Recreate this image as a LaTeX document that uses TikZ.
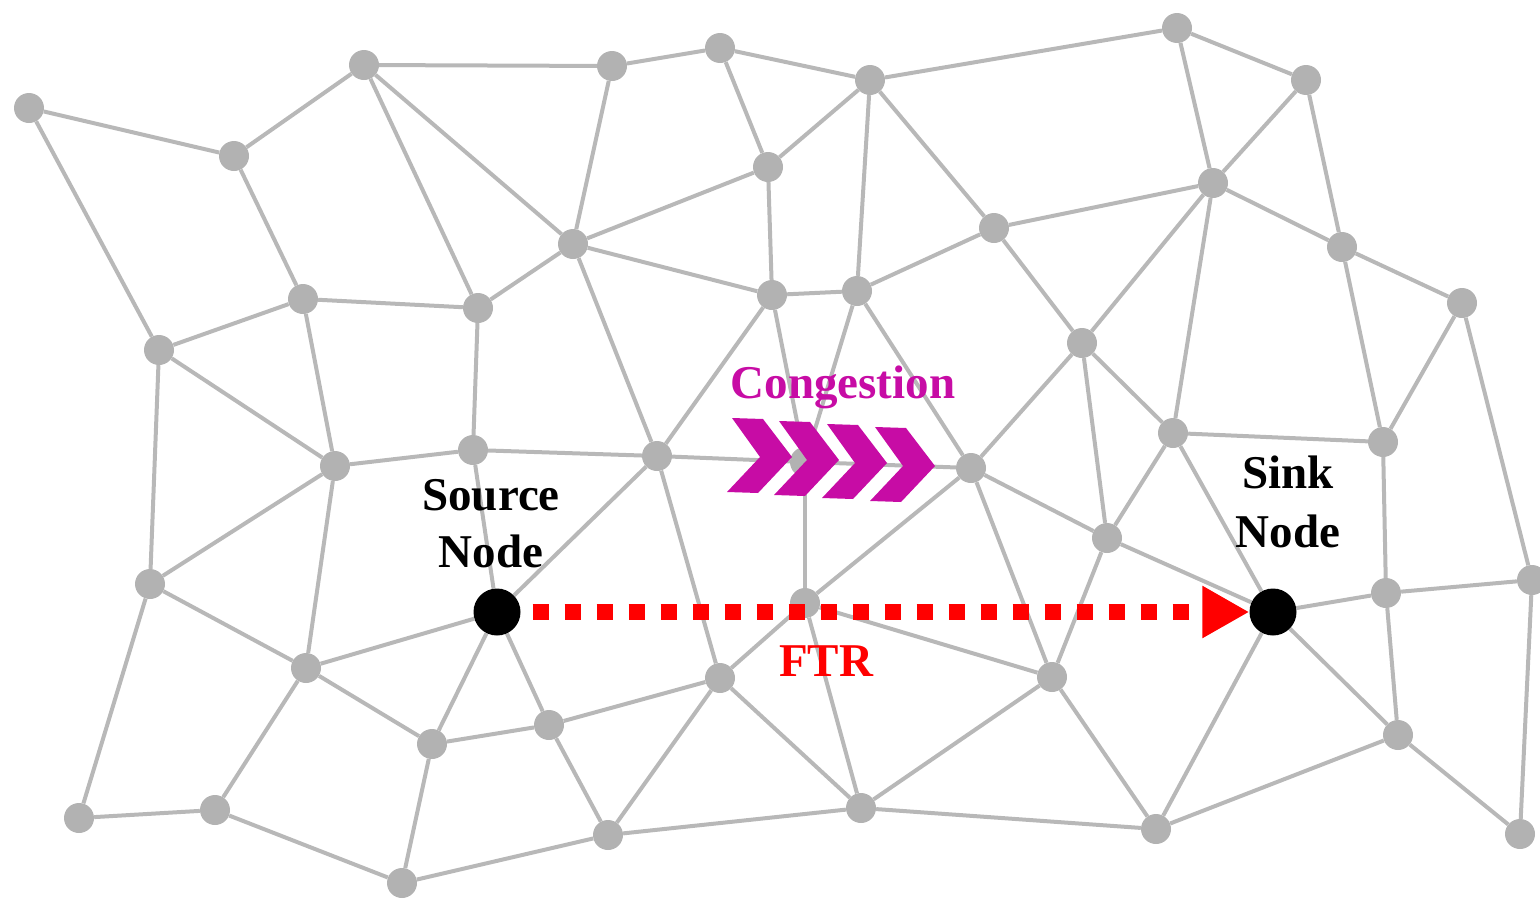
\documentclass[tikz,border=0pt]{standalone}
\usepackage{fontspec}
\setmainfont{Liberation Serif}
\usetikzlibrary{arrows.meta,backgrounds}
\definecolor{nodegray}{RGB}{178,178,178}
\definecolor{edgegray}{RGB}{184,184,184}
\definecolor{congest}{RGB}{199,12,165}
\begin{document}
\begin{tikzpicture}[x=1pt,y=-1pt,
  gn/.style={circle,fill=nodegray,inner sep=0pt,minimum size=30pt},
  bn/.style={circle,fill=black,inner sep=0pt,minimum size=47pt},
  edge/.style={draw=edgegray,line width=4pt},
  lbl/.style={font=\fontsize{47}{56}\selectfont\bfseries,anchor=base,inner sep=0pt},
  chev/.style={fill=congest},
  ftr/.style={draw=red,line width=16pt,dash pattern=on 16pt off 16pt,-{Triangle[length=47pt,width=49pt]}}
]
\useasboundingbox (0,0) rectangle (1540,900);
% gray nodes
\foreach \n/\x/\y in {
 1/29/108, 2/234/156, 3/364/65, 4/612/66, 5/720/48, 6/870/80, 7/1177/28, 8/1306/80,
 9/768/167, 10/573/244, 11/303/299, 12/478/308, 13/159/350, 14/772/295, 15/857/291,
 16/994/228, 17/1213/183, 18/1342/247, 19/1462/303, 20/1082/343, 21/473/450, 22/335/466,
 23/657/456, h/805/462, 24/971/468, 25/1173/433, 26/1383/442, 27/1107/538, 28/150/584,
 29/306/668, 31/805/603, 32/720/678, 33/1052/677, 35/1386/593, 36/1532/580, 37/549/725,
 38/432/744, 39/1398/735, 40/79/818, 41/215/810, 42/402/883, 43/608/835, 44/861/808,
 45/1156/829, 46/1520/834}
  \node[gn] (g\n) at (\x,\y) {};
\node[bn] (src) at (497,612) {};
\node[bn] (snk) at (1273,612) {};
% edges
\begin{scope}[on background layer]
\foreach \a/\b in {
 g1/g2, g1/g13, g2/g3, g2/g11, g3/g4, g3/g12, g3/g10, g4/g5, g4/g10, g5/g6, g5/g9,
 g6/g7, g6/g9, g6/g15, g6/g16, g7/g8, g7/g17, g8/g17, g8/g18, g9/g10, g9/g14,
 g10/g12, g10/g14, g10/g23, g11/g12, g11/g13, g11/g22, g12/g21, g13/g22, g13/g28,
 g14/g15, g14/g23, g14/gh, g15/gh, g15/g16, g15/g24, g16/g17, g16/g20, g17/g18,
 g17/g20, g17/g25, g18/g19, g18/g26, g19/g26, g19/g36, g20/g24, g20/g25, g20/g27,
 g21/g22, g21/g23, g21/src, g22/g28, g22/g29, g23/gh, gh/g24, gh/g31, g23/src,
 g23/g32, g24/g27, g24/g31, g24/g33, g25/g26, g25/g27, g25/snk, g26/g35, g27/snk,
 g27/g33, g28/g29, g28/g40, g29/src, g29/g38, g29/g41, src/g37, src/g38,
 g31/g32, g31/g33, g31/g44, g32/g37, g32/g43, g32/g44, g33/g44, g33/g45,
 snk/g35, snk/g39, snk/g45, g35/g36, g35/g39, g36/g46, g37/g38, g37/g43,
 g38/g42, g39/g45, g39/g46, g40/g41, g41/g42, g42/g43, g43/g44, g44/g45}
  \draw[edge] (\a) -- (\b);
\end{scope}
% congestion chevrons
\foreach \dx/\dy in {0/0,47/3,95/6,143/9}{
  \begin{scope}[shift={(732+\dx,418+\dy)}]
    \fill[chev] (0,0) -- (31,1) -- (60,39) -- (26,75) -- (-5,74) -- (28,39) -- cycle;
  \end{scope}
}
\node[lbl,text=congest] (congtxt) at (843,398) {Congestion};
% FTR
\draw[ftr,shorten <=12pt] (src) -- (snk);
\node[lbl,text=red] (ftrtxt) at (826,676) {FTR};
% labels
\node[lbl] (srcl1) at (491,510) {Source};
\node[lbl] (srcl2) at (491,567) {Node};
\node[lbl] (snkl1) at (1288,488) {Sink};
\node[lbl] (snkl2) at (1288,547) {Node};
\end{tikzpicture}
\end{document}
